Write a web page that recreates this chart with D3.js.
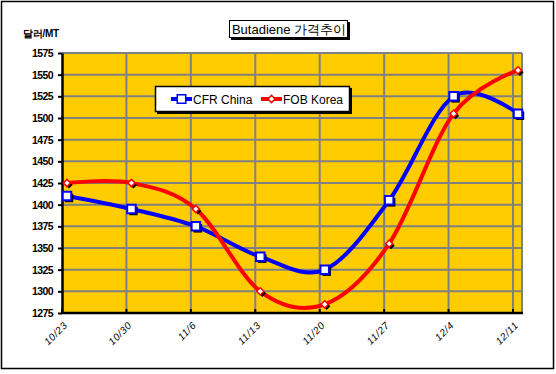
<!DOCTYPE html>
<meta charset="utf-8">
<script src="https://cdn.jsdelivr.net/npm/d3@7"></script>
<style>
  body { margin: 0; background: #fff; }
  svg { display: block; font-family: Arial, "Liberation Sans", sans-serif; }
</style>
<div id="chart"></div>
<script>
  var categories = ["10/23", "10/30", "11/6", "11/13", "11/20", "11/27", "12/4", "12/11"];
  var cfrChina = [1410, 1395, 1375, 1340, 1325, 1405, 1525, 1505];
  var fobKorea = [1425, 1425, 1395, 1300, 1285, 1355, 1505, 1555];
  var yTicks = d3.range(1275, 1576, 25);

  var width = 556, height = 374;
  var plot = { left: 62, top: 53, right: 522, bottom: 313 };

  var svg = d3.select('#chart').append('svg')
    .attr('width', width)
    .attr('height', height);

  // outer frame
  svg.append('rect')
    .attr('x', 1.5).attr('y', 1.5)
    .attr('width', 552).attr('height', 367)
    .attr('fill', '#fff').attr('stroke', '#000').attr('stroke-width', 1.5);

  // points sit a bit right of their gridline, like the original sheet
  var x = d3.scalePoint()
    .domain(categories)
    .range([plot.left + 5, plot.right - 4]);
  var gridX = d => x(d) - 5;

  var y = d3.scaleLinear()
    .domain([1275, 1575])
    .range([plot.bottom, plot.top]);

  svg.append('rect')
    .attr('x', plot.left).attr('y', plot.top)
    .attr('width', plot.right - plot.left).attr('height', plot.bottom - plot.top)
    .attr('fill', '#ffcc00');

  // gridlines
  svg.append('g').selectAll('line')
    .data(yTicks)
    .join('line')
    .attr('x1', plot.left).attr('x2', plot.right)
    .attr('y1', d => y(d)).attr('y2', d => y(d))
    .attr('stroke', '#808080').attr('stroke-width', 2);

  svg.append('g').selectAll('line')
    .data(categories.slice(1))
    .join('line')
    .attr('x1', gridX).attr('x2', gridX)
    .attr('y1', plot.top).attr('y2', plot.bottom)
    .attr('stroke', '#808080').attr('stroke-width', 2);

  // right border of plot area
  svg.append('line')
    .attr('x1', plot.right).attr('x2', plot.right)
    .attr('y1', plot.top).attr('y2', plot.bottom)
    .attr('stroke', '#808080').attr('stroke-width', 2);

  // y axis
  var yAxis = svg.append('g')
    .attr('transform', `translate(${plot.left},0)`)
    .call(d3.axisLeft(y).tickValues(yTicks).tickFormat(d3.format('d'))
      .tickSize(4).tickPadding(5).tickSizeOuter(0));
  yAxis.select('.domain').attr('stroke', '#000').attr('stroke-width', 2.5);
  yAxis.selectAll('.tick line').attr('stroke', '#000').attr('stroke-width', 2);
  yAxis.selectAll('text')
    .attr('font-size', 10.5).attr('font-weight', 'bold')
    .attr('font-family', 'Arial, "Liberation Sans", sans-serif')
    .attr('letter-spacing', -0.6).attr('fill', '#000');

  // x axis
  svg.append('line')
    .attr('x1', plot.left - 1).attr('x2', plot.right + 1)
    .attr('y1', plot.bottom).attr('y2', plot.bottom)
    .attr('stroke', '#000').attr('stroke-width', 2.5);
  svg.append('g').selectAll('line')
    .data(categories)
    .join('line')
    .attr('x1', gridX).attr('x2', gridX)
    .attr('y1', plot.bottom).attr('y2', plot.bottom - 4)
    .attr('stroke', '#000').attr('stroke-width', 2);

  svg.append('g').selectAll('text')
    .data(categories)
    .join('text')
    .attr('transform', d => `translate(${x(d) + 1},${plot.bottom + 13}) rotate(-45)`)
    .attr('text-anchor', 'end')
    .attr('font-size', 10)
    .attr('font-style', 'italic')
    .attr('letter-spacing', 0.6)
    .text(d => d);

  // series
  var line = d3.line()
    .x((d, i) => x(categories[i]))
    .y(d => y(d))
    .curve(d3.curveCardinal.tension(0));

  svg.append('path')
    .attr('d', line(cfrChina))
    .attr('fill', 'none').attr('stroke', '#0000ff').attr('stroke-width', 4);
  svg.append('path')
    .attr('d', line(fobKorea))
    .attr('fill', 'none').attr('stroke', '#ff0000').attr('stroke-width', 4);

  var square = d3.symbol().type(d3.symbolSquare).size(72);
  var diamond = d3.symbol().type(d3.symbolSquare).size(26);

  function markers(values, sym, rot, color, sw) {
    var g = svg.append('g');
    g.selectAll('path.shadow')
      .data(values)
      .join('path')
      .attr('class', 'shadow')
      .attr('transform', (d, i) => `translate(${x(categories[i]) + 2},${y(d) + 2}) rotate(${rot})`)
      .attr('d', sym)
      .attr('fill', '#000');
    g.selectAll('path.mark')
      .data(values)
      .join('path')
      .attr('class', 'mark')
      .attr('transform', (d, i) => `translate(${x(categories[i])},${y(d)}) rotate(${rot})`)
      .attr('d', sym)
      .attr('fill', '#fff').attr('stroke', color).attr('stroke-width', sw);
  }
  markers(cfrChina, square, 0, '#0000ff', 2);
  markers(fobKorea, diamond, 45, '#ff0000', 1.5);

  // title
  var title = svg.append('g');
  title.append('rect')
    .attr('x', 231).attr('y', 22).attr('width', 119).attr('height', 18)
    .attr('fill', '#000');
  title.append('rect')
    .attr('x', 229.5).attr('y', 20.5).attr('width', 118).attr('height', 17)
    .attr('fill', '#fff').attr('stroke', '#000').attr('stroke-width', 1);
  title.append('text')
    .attr('x', 289).attr('y', 33.5)
    .attr('text-anchor', 'middle')
    .attr('font-size', 13)
    .text('Butadiene 가격추이');

  // y title
  svg.append('text')
    .attr('x', 23).attr('y', 37)
    .attr('font-size', 10).attr('font-weight', 'bold')
    .attr('letter-spacing', -0.3)
    .text('달러/MT');

  // legend
  var legend = svg.append('g');
  legend.append('rect')
    .attr('x', 157).attr('y', 88).attr('width', 195).attr('height', 26)
    .attr('fill', '#000');
  legend.append('rect')
    .attr('x', 155.5).attr('y', 86.5).attr('width', 194).attr('height', 25)
    .attr('fill', '#fff').attr('stroke', '#000').attr('stroke-width', 1.5);

  var items = [
    { name: 'CFR China', color: '#0000ff', sym: square, rot: 0, x0: 171 },
    { name: 'FOB Korea', color: '#ff0000', sym: diamond, rot: 45, x0: 261 }
  ];
  items.forEach(it => {
    legend.append('line')
      .attr('x1', it.x0).attr('x2', it.x0 + 21)
      .attr('y1', 99).attr('y2', 99)
      .attr('stroke', it.color).attr('stroke-width', 4);
    legend.append('path')
      .attr('transform', `translate(${it.x0 + 10.5},99) rotate(${it.rot})`)
      .attr('d', it.sym)
      .attr('fill', '#fff').attr('stroke', it.color).attr('stroke-width', 1.5);
    legend.append('text')
      .attr('x', it.x0 + 22).attr('y', 103.5)
      .attr('font-size', 12)
      .text(it.name);
  });
</script>
